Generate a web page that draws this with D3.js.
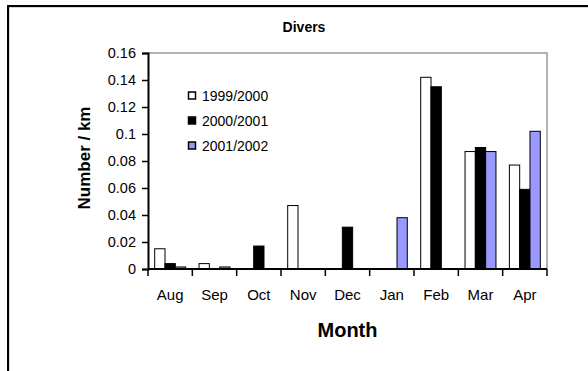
<!DOCTYPE html>
<html>
<head>
<meta charset="utf-8">
<script src="https://cdn.jsdelivr.net/npm/d3@7"></script>
<style>
  html, body { margin: 0; padding: 0; background: #fff; }
  svg { display: block; font-family: "Liberation Sans", Arial, sans-serif; }
</style>
</head>
<body>
<svg id="chart" width="588" height="371"></svg>
<script>
// Monthly diver counts per km, three survey seasons
const months = ["Aug", "Sep", "Oct", "Nov", "Dec", "Jan", "Feb", "Mar", "Apr"];
const seasons = ["1999/2000", "2000/2001", "2001/2002"];
const season1 = [0.015, 0.004, null, 0.047, null, null, 0.142, 0.087, 0.077];
const season2 = [0.004, null, 0.017, null, 0.031, null, 0.135, 0.090, 0.059];
const season3 = [0.0015, 0.0015, null, null, null, 0.038, null, 0.087, 0.102];
const yTicks = [0, 0.02, 0.04, 0.06, 0.08, 0.1, 0.12, 0.14, 0.16];
const fills = ["#ffffff", "#000000", "#9999ff"];

const seriesValues = [season1, season2, season3];

const svg = d3.select("#chart");

// outer chart frame (open on the right and bottom)
svg.append("path")
  .attr("d", "M8,400 L8,6 L600,6")
  .attr("fill", "none").attr("stroke", "#b0b0b0").attr("stroke-width", 1)
  .attr("transform", "translate(1,1)");
svg.append("path")
  .attr("d", "M8,400 L8,6 L600,6")
  .attr("fill", "none").attr("stroke", "#000").attr("stroke-width", 2);

const plot = { left: 148, right: 547, top: 53, bottom: 269 };

const x = d3.scaleBand().domain(months).range([plot.left, plot.right]).paddingInner(0).paddingOuter(0);
const xs = d3.scaleBand().domain(seasons).range([0, x.bandwidth()]).paddingInner(0).paddingOuter(0.65);
const y = d3.scaleLinear().domain([0, 0.16]).range([plot.bottom, plot.top]);

// plot area frame: grey top and right edges
svg.append("path")
  .attr("d", `M${plot.left},${plot.top} L${plot.right},${plot.top} L${plot.right},${plot.bottom}`)
  .attr("fill", "none").attr("stroke", "#999").attr("stroke-width", 1.5);

// bars
const barData = [];
seriesValues.forEach((vals, si) => {
  vals.forEach((v, mi) => {
    if (v != null) barData.push({ month: months[mi], season: seasons[si], si, v });
  });
});
svg.append("g").selectAll("rect").data(barData).join("rect")
  .attr("x", d => x(d.month) + xs(d.season))
  .attr("y", d => y(d.v))
  .attr("width", xs.bandwidth())
  .attr("height", d => y(0) - y(d.v))
  .attr("fill", d => fills[d.si])
  .attr("stroke", "#000")
  .attr("stroke-width", 1);

// y axis
const yAxis = d3.axisLeft(y).tickValues(yTicks).tickSize(6).tickPadding(6)
  .tickFormat(d => String(+d.toFixed(2)));
const gy = svg.append("g").attr("transform", `translate(${plot.left},0)`).call(yAxis);
gy.select(".domain").attr("stroke", "#000").attr("stroke-width", 2);
gy.selectAll(".tick line").attr("stroke", "#000").attr("stroke-width", 1.5);
gy.selectAll(".tick text").attr("font-size", 14.5).attr("fill", "#000")
  .attr("font-family", "Liberation Sans, Arial, sans-serif");

// x axis: tick marks at category boundaries, labels centred in each band
const gx = svg.append("g").attr("transform", `translate(0,${plot.bottom})`);
gx.append("line").attr("x1", plot.left).attr("x2", plot.right)
  .attr("stroke", "#000").attr("stroke-width", 2);
const bounds = months.map(m => x(m)).concat([plot.right]);
gx.selectAll("line.tk").data(bounds).join("line").attr("class", "tk")
  .attr("x1", d => d).attr("x2", d => d).attr("y1", 0).attr("y2", 7)
  .attr("stroke", "#000").attr("stroke-width", 1.5);
gx.selectAll("text").data(months).join("text")
  .attr("x", d => x(d) + x.bandwidth() / 2)
  .attr("y", 31)
  .attr("text-anchor", "middle")
  .attr("font-size", 15)
  .text(d => d);

// titles
svg.append("text").attr("x", 304).attr("y", 32).attr("text-anchor", "middle")
  .attr("font-size", 14).attr("font-weight", "bold").text("Divers");
svg.append("text").attr("x", (plot.left + plot.right) / 2).attr("y", 337).attr("text-anchor", "middle")
  .attr("font-size", 20).attr("font-weight", "bold").text("Month");
svg.append("text")
  .attr("transform", `translate(90,${(plot.top + plot.bottom) / 2 - 3}) rotate(-90)`)
  .attr("text-anchor", "middle")
  .attr("font-size", 17).attr("font-weight", "bold").text("Number / km");

// legend
const legend = svg.append("g").attr("transform", "translate(188,92)");
const lg = legend.selectAll("g").data(seasons).join("g")
  .attr("transform", (d, i) => `translate(0,${i * 25})`);
lg.append("rect").attr("x", 0.5).attr("y", 0).attr("width", 7).attr("height", 7)
  .attr("fill", (d, i) => fills[i]).attr("stroke", "#000").attr("stroke-width", 1.5);
lg.append("text").attr("x", 14).attr("y", 9).attr("font-size", 14).text(d => d);
</script>
</body>
</html>
